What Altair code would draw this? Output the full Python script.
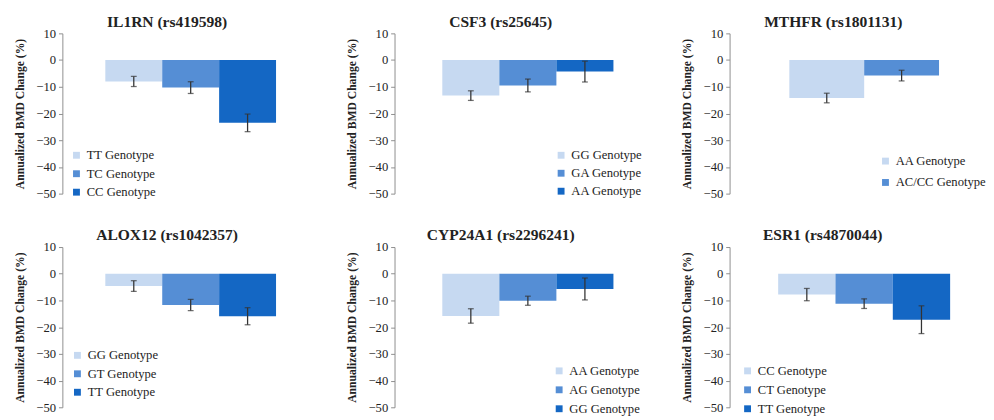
import altair as alt
import pandas as pd

genes = ["IL1RN (rs419598)", "CSF3 (rs25645)", "MTHFR (rs1801131)",
         "ALOX12 (rs1042357)", "CYP24A1 (rs2296241)", "ESR1 (rs4870044)"]

genotypes = [
    ["TT Genotype", "TC Genotype", "CC Genotype"],
    ["GG Genotype", "GA Genotype", "AA Genotype"],
    ["AA Genotype", "AC/CC Genotype"],
    ["GG Genotype", "GT Genotype", "TT Genotype"],
    ["AA Genotype", "AG Genotype", "GG Genotype"],
    ["CC Genotype", "CT Genotype", "TT Genotype"],
]

means = [
    [-8.0, -10.3, -23.5],
    [-13.3, -9.5, -4.3],
    [-14.2, -5.8],
    [-4.6, -11.7, -15.9],
    [-15.8, -10.1, -5.7],
    [-7.8, -11.2, -17.2],
]

errors = [
    [1.9, 2.2, 3.3],
    [1.8, 2.4, 3.9],
    [1.8, 2.0],
    [2.0, 2.1, 3.2],
    [2.7, 1.7, 4.1],
    [2.3, 1.8, 5.2],
]

y_ticks = [10, 0, -10, -20, -30, -40, -50]

COLORS = ["#c6d9f1", "#558ed5", "#1467c4"]
FONT = "Liberation Serif"
INK = "#222222"

# style per panel: plot width, band outer padding, band align, legend x, legend y, legend row padding
STYLE = [
    dict(w=266, po=0.77, al=0.49, lx=8, ly=119, rp=5),
    dict(w=269, po=0.79, al=0.53, lx=165, ly=119, rp=4.5),
    dict(w=242, po=0.57, al=0.70, lx=154, ly=125, rp=8),
    dict(w=266, po=0.77, al=0.49, lx=9, ly=105, rp=5),
    dict(w=269, po=0.79, al=0.53, lx=163, ly=121, rp=5.5),
    dict(w=242, po=0.55, al=0.77, lx=12, ly=121, rp=5.5),
]


def panel(i):
    s = STYLE[i]
    n = len(genotypes[i])
    df = pd.DataFrame({"genotype": genotypes[i], "mean": means[i], "err": errors[i]})
    base = alt.Chart(df).transform_calculate(
        lo="datum.mean - datum.err", hi="datum.mean + datum.err"
    )
    x = alt.X("genotype:N", sort=genotypes[i], axis=None,
              scale=alt.Scale(paddingInner=0, paddingOuter=s["po"], align=s["al"]))
    yscale = alt.Scale(domain=[-50, 10], nice=False, zero=True)
    yaxis = alt.Axis(
        values=y_ticks, grid=False, title="Annualized BMD Change (%)",
        titleFont=FONT, titleFontSize=12, titleFontWeight="bold", titleColor="#222222",
        titlePadding=10, labelFont=FONT, labelFontSize=13, labelColor=INK,
        domainColor="#8c8c8c", tickColor="#8c8c8c", tickSize=4, labelPadding=3,
    )
    bars = base.mark_bar().encode(
        x=x,
        y=alt.Y("mean:Q", scale=yscale, axis=yaxis),
        color=alt.Color(
            "genotype:N", sort=genotypes[i],
            scale=alt.Scale(domain=genotypes[i], range=COLORS[:n]),
            legend=alt.Legend(
                title=None, orient="none", legendX=s["lx"], legendY=s["ly"],
                symbolType="square", symbolSize=50, symbolStrokeWidth=0,
                labelFont=FONT, labelFontSize=13, labelColor=INK,
                rowPadding=s["rp"], labelOffset=4, padding=0,
            ),
        ),
    )
    rules = base.mark_rule(color="#333333", strokeWidth=1.3).encode(
        x=x, y=alt.Y("lo:Q", scale=yscale, axis=yaxis), y2="hi:Q"
    )
    cap_lo = base.mark_tick(color="#333333", size=6, thickness=1.3).encode(
        x=x, y=alt.Y("lo:Q", scale=yscale, axis=yaxis)
    )
    cap_hi = base.mark_tick(color="#333333", size=6, thickness=1.3).encode(
        x=x, y=alt.Y("hi:Q", scale=yscale, axis=yaxis)
    )
    title = alt.TitleParams(genes[i], font=FONT, fontSize=16, fontWeight="bold",
                            color="#222222", anchor="middle", frame="bounds", offset=-2)
    return alt.layer(bars, rules, cap_lo, cap_hi).properties(
        width=s["w"], height=165, title=title
    )


row1 = alt.hconcat(panel(0), panel(1), panel(2), spacing=25).resolve_scale(color="independent")
row2 = alt.hconcat(panel(3), panel(4), panel(5), spacing=25).resolve_scale(color="independent")

chart = (
    alt.vconcat(row1, row2, spacing=28)
    .resolve_scale(color="independent")
    .properties(padding={"left": 5, "top": 0, "right": 0, "bottom": 0}, background="white")
    .configure_view(stroke=None)
    .configure_axis(labelFont=FONT, titleFont=FONT, labelColor=INK)
    .configure_legend(labelFont=FONT)
    .configure_title(font=FONT)
)

chart.save("out.html", embed_options={"renderer": "svg", "actions": False})
